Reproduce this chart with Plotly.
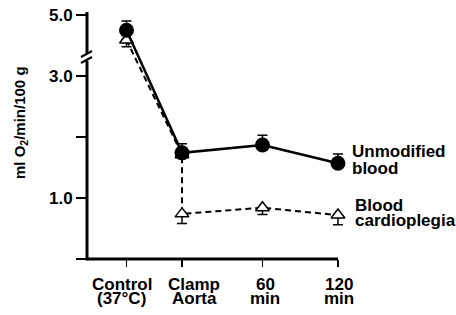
import plotly.graph_objects as go

# ---------------- data ----------------
tick_line1 = ["Control", "Clamp", "60", "120"]
tick_line2 = ["(37°C)", "Aorta", "min", "min"]
x_positions = [0, 1, 2.45, 3.81]

# Unmodified blood (filled circles, solid line)
unmod_idx = [0, 1, 2, 3]
unmod_y = [4.75, 1.74, 1.87, 1.57]
unmod_err_up = [0.15, 0.15, 0.16, 0.15]

# Blood cardioplegia (open triangles, dashed line); two values at clamp
cardio_idx = [0, 1, 1, 2, 3]
cardio_y = [4.59, 1.71, 0.74, 0.84, 0.72]
cardio_err_down = [0.11, 0.0, 0.16, 0.11, 0.16]

# y-axis ticks (actual values); 4.0 is cut out by the axis break
y_tick_values = [0, 1.0, 2.0, 3.0, 5.0]
y_tick_labels = ["", "1.0", "", "3.0", "5.0"]

# axis break: values above BREAK_AT are shifted down by BREAK_GAP
BREAK_AT = 3.5
BREAK_GAP = 1.0
y_display_range = [0, 4.0]

def to_display(v):
    return v - BREAK_GAP if v > BREAK_AT else v

# ---------------- layout constants ----------------
W, H = 456, 315
L, R, T, B = 87, 106, 15, 56
plot_w = W - L - R
plot_h = H - T - B
x_range = [-0.712, 4.027]
label_shift = [-5, 12, 3, 1]

FONT = "Liberation Sans, Arial, Helvetica, sans-serif"

def px_to_paper_x(px):
    return (px - L) / plot_w

def px_to_paper_y(py):
    return (H - B - py) / plot_h

fig = go.Figure()

unmod_x = [x_positions[i] for i in unmod_idx]
cardio_x = [x_positions[i] for i in cardio_idx]

fig.add_trace(go.Scatter(
    x=cardio_x, y=[to_display(v) for v in cardio_y],
    mode="lines+markers",
    line=dict(color="black", width=2, dash="6px,4px"),
    marker=dict(symbol="triangle-up", size=12, color="white",
                line=dict(color="black", width=1.5)),
    error_y=dict(type="data", symmetric=False,
                 array=[0] * len(cardio_y), arrayminus=cardio_err_down,
                 color="black", thickness=1.5, width=5),
    showlegend=False, hoverinfo="skip",
))
fig.add_trace(go.Scatter(
    x=unmod_x, y=[to_display(v) for v in unmod_y],
    mode="lines+markers",
    line=dict(color="black", width=2.5),
    marker=dict(symbol="circle", size=15, color="black"),
    error_y=dict(type="data", symmetric=False,
                 array=unmod_err_up, arrayminus=[0] * len(unmod_y),
                 color="black", thickness=1.5, width=5),
    showlegend=False, hoverinfo="skip",
))

tickfont = dict(family=FONT, size=17, color="black", weight="bold")

fig.update_layout(
    width=W, height=H,
    margin=dict(l=L, r=R, t=T, b=B, autoexpand=False),
    paper_bgcolor="white", plot_bgcolor="white",
    xaxis=dict(range=x_range, tickvals=x_positions, showticklabels=False,
               ticks="outside", ticklen=7, tickwidth=1.5, tickcolor="black",
               showline=False, showgrid=False, zeroline=False, automargin=False),
    yaxis=dict(range=y_display_range,
               tickvals=[to_display(v) for v in y_tick_values],
               ticktext=y_tick_labels,
               ticks="outside", ticklen=10, tickwidth=1.5, tickcolor="black",
               tickfont=tickfont, showline=False, showgrid=False, zeroline=False,
               automargin=False),
)

# axis lines as shapes (y axis broken)
brk_lo = px_to_paper_y(61)
brk_hi = px_to_paper_y(53)
shapes = [
    dict(type="line", xref="x", yref="paper", x0=x_range[0], x1=x_positions[-1],
         y0=0, y1=0, line=dict(color="black", width=3)),
    dict(type="line", xref="paper", yref="paper", x0=0, x1=0, y0=-0.006, y1=brk_lo,
         line=dict(color="black", width=3)),
    dict(type="line", xref="paper", yref="paper", x0=0, x1=0, y0=brk_hi,
         y1=px_to_paper_y(12), line=dict(color="black", width=3)),
    dict(type="line", xref="paper", yref="paper",
         x0=px_to_paper_x(81), y0=px_to_paper_y(57),
         x1=px_to_paper_x(92), y1=px_to_paper_y(51),
         line=dict(color="black", width=2)),
    dict(type="line", xref="paper", yref="paper",
         x0=px_to_paper_x(81), y0=px_to_paper_y(63),
         x1=px_to_paper_x(92), y1=px_to_paper_y(57),
         line=dict(color="black", width=2)),
]
fig.update_layout(shapes=shapes)

labfont = dict(family=FONT, size=17, color="black", weight="bold")
annotations = []
for xp, t1, t2, sh in zip(x_positions, tick_line1, tick_line2, label_shift):
    annotations.append(dict(x=xp, xref="x", y=px_to_paper_y(284), yref="paper",
                            text=t1, showarrow=False, xanchor="center",
                            yanchor="middle", xshift=sh, font=labfont))
    annotations.append(dict(x=xp, xref="x", y=px_to_paper_y(298), yref="paper",
                            text=t2, showarrow=False, xanchor="center",
                            yanchor="middle", xshift=sh, font=labfont))

series_labels = [("Unmodified", 350, 151), ("blood", 350, 168),
                 ("Blood", 353, 205), ("cardioplegia", 353, 221)]
for txt, px, py in series_labels:
    annotations.append(dict(x=px_to_paper_x(px), xref="paper",
                            y=px_to_paper_y(py), yref="paper",
                            text=txt, showarrow=False, xanchor="left",
                            yanchor="middle", font=labfont))

annotations.append(dict(x=px_to_paper_x(20), xref="paper", y=px_to_paper_y(123),
                        yref="paper", text="ml O<sub>2</sub>/min/100 g",
                        textangle=-90, showarrow=False, xanchor="center",
                        yanchor="middle",
                        font=dict(family=FONT, size=15, color="black", weight="bold")))
fig.update_layout(annotations=annotations)

fig.write_html("out.html",
               config={"displayModeBar": False, "staticPlot": True},
               post_script="document.body.style.margin='0';"
                           "document.body.style.overflow='hidden';")
